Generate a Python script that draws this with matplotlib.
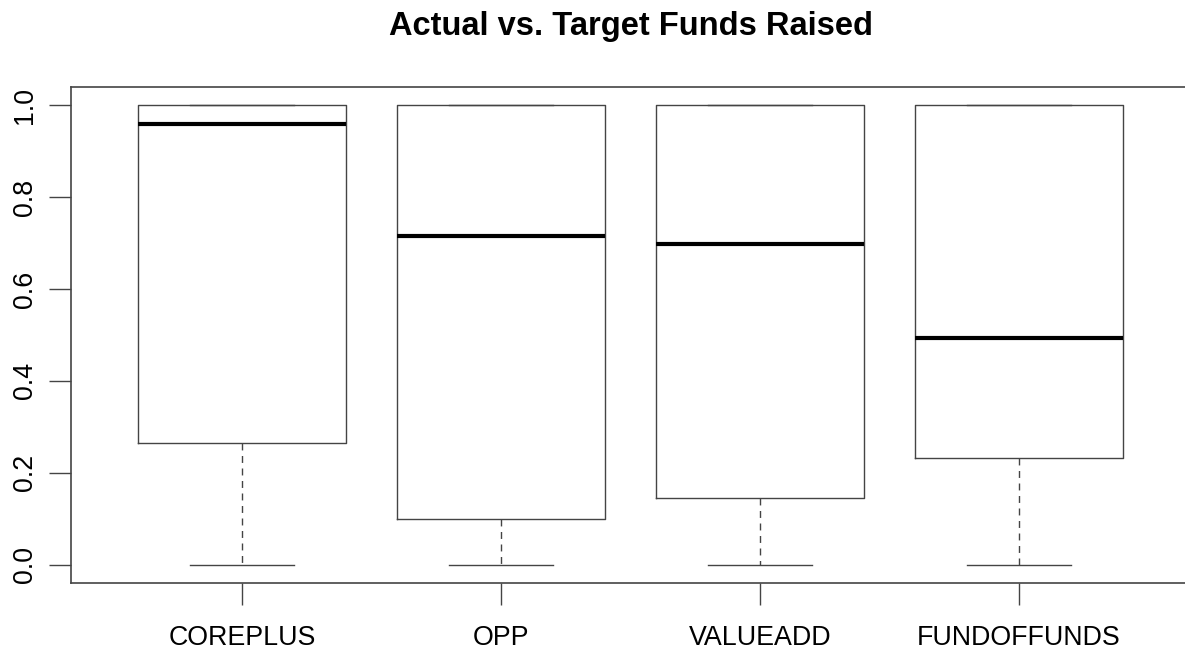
import matplotlib
matplotlib.use("Agg")
import matplotlib.pyplot as plt

plt.rcParams['font.family'] = ['Liberation Sans', 'DejaVu Sans']

# datos
categorias = ["COREPLUS", "OPP", "VALUEADD", "FUNDOFFUNDS"]
minimos = [0.0, 0.0, 0.0, 0.0]
q1 = [0.265, 0.100, 0.145, 0.232]
medianas = [0.960, 0.715, 0.699, 0.494]
q3 = [1.0, 1.0, 1.0, 1.0]
maximos = [1.0, 1.0, 1.0, 1.0]

stats = []
for i, nombre in enumerate(categorias):
    stats.append(dict(label=nombre, whislo=minimos[i], q1=q1[i], med=medianas[i],
                      q3=q3[i], whishi=maximos[i], fliers=[]))

fig = plt.figure(figsize=(11.85, 6.55), dpi=100)
ax = fig.add_axes([71/1185, 1 - 583/655, (1190 - 71)/1185, (583 - 87)/655])

gris = '#444444'
ax.bxp(stats, positions=range(1, 5), widths=0.8, capwidths=0.4, showfliers=False,
       boxprops=dict(color=gris, linewidth=1.0),
       whiskerprops=dict(color=gris, linewidth=1.0, linestyle=(0, (5, 4))),
       capprops=dict(color=gris, linewidth=1.0),
       medianprops=dict(color='black', linewidth=3.0))

ax.set_xlim(0.34, 4.66)
ax.set_ylim(-0.04, 1.04)
ax.set_yticks([0.0, 0.2, 0.4, 0.6, 0.8, 1.0])
ax.set_yticklabels(["0.0", "0.2", "0.4", "0.6", "0.8", "1.0"], rotation=90, va='center')
ax.tick_params(axis='both', length=16, width=1.0, color=gris, labelsize=19.3, pad=8)
ax.tick_params(axis='x', pad=14)

for lado in ax.spines.values():
    lado.set_color(gris)
    lado.set_linewidth(1.2)

# titulo centrado sobre el area del grafico (como en R)
fig.text(631/1185, 1 - 35/655, "Actual vs. Target Funds Raised", ha='center', va='baseline',
         fontsize=23.5, fontweight='bold')

fig.savefig("out.png", dpi=100)
